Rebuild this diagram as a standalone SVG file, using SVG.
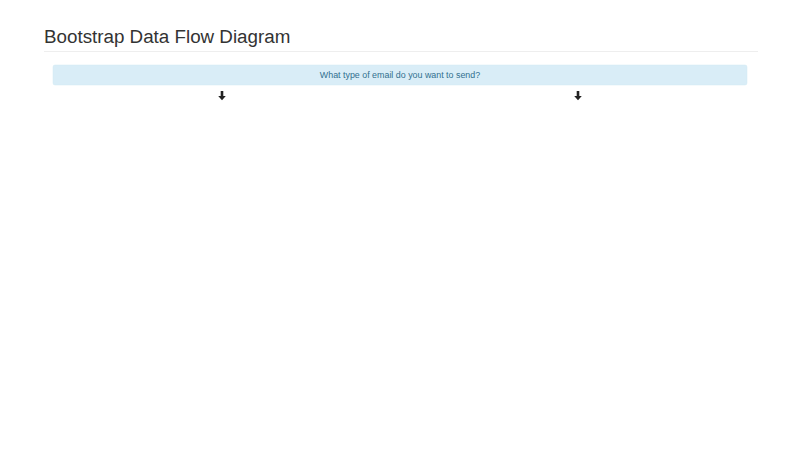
<svg xmlns="http://www.w3.org/2000/svg" width="800" height="450" viewBox="0 0 800 450">
<defs>
<style>
.title{font-family:"Liberation Sans",Arial,sans-serif;font-size:18.8px;fill:#333}
.info{font-family:"Liberation Sans",Arial,sans-serif;font-size:8.9px;fill:#31708f}
.arrow{fill:#222}
</style>
<path id="darr" class="arrow" d="M-1.3,-4.5 H1.3 V0.5 H3.8 L0,4.8 L-3.8,0.5 H-1.3 Z"/>
</defs>
<rect width="800" height="450" fill="#fff"/>
<g id="header">
<text class="title" x="44" y="42.5">Bootstrap Data Flow Diagram</text>
<line x1="44" y1="51.5" x2="758" y2="51.5" stroke="#eee" stroke-width="1"/>
</g>
<g id="question">
<rect x="53" y="65" width="694" height="20" rx="2" fill="#d9edf7" stroke="#d1e9f3" stroke-width="0.5"/>
<text class="info" x="400" y="78.2" text-anchor="middle">What type of email do you want to send?</text>
</g>
<g id="connectors">
<use href="#darr" x="222" y="95.5"/>
<use href="#darr" x="578" y="95.5"/>
</g>
</svg>
